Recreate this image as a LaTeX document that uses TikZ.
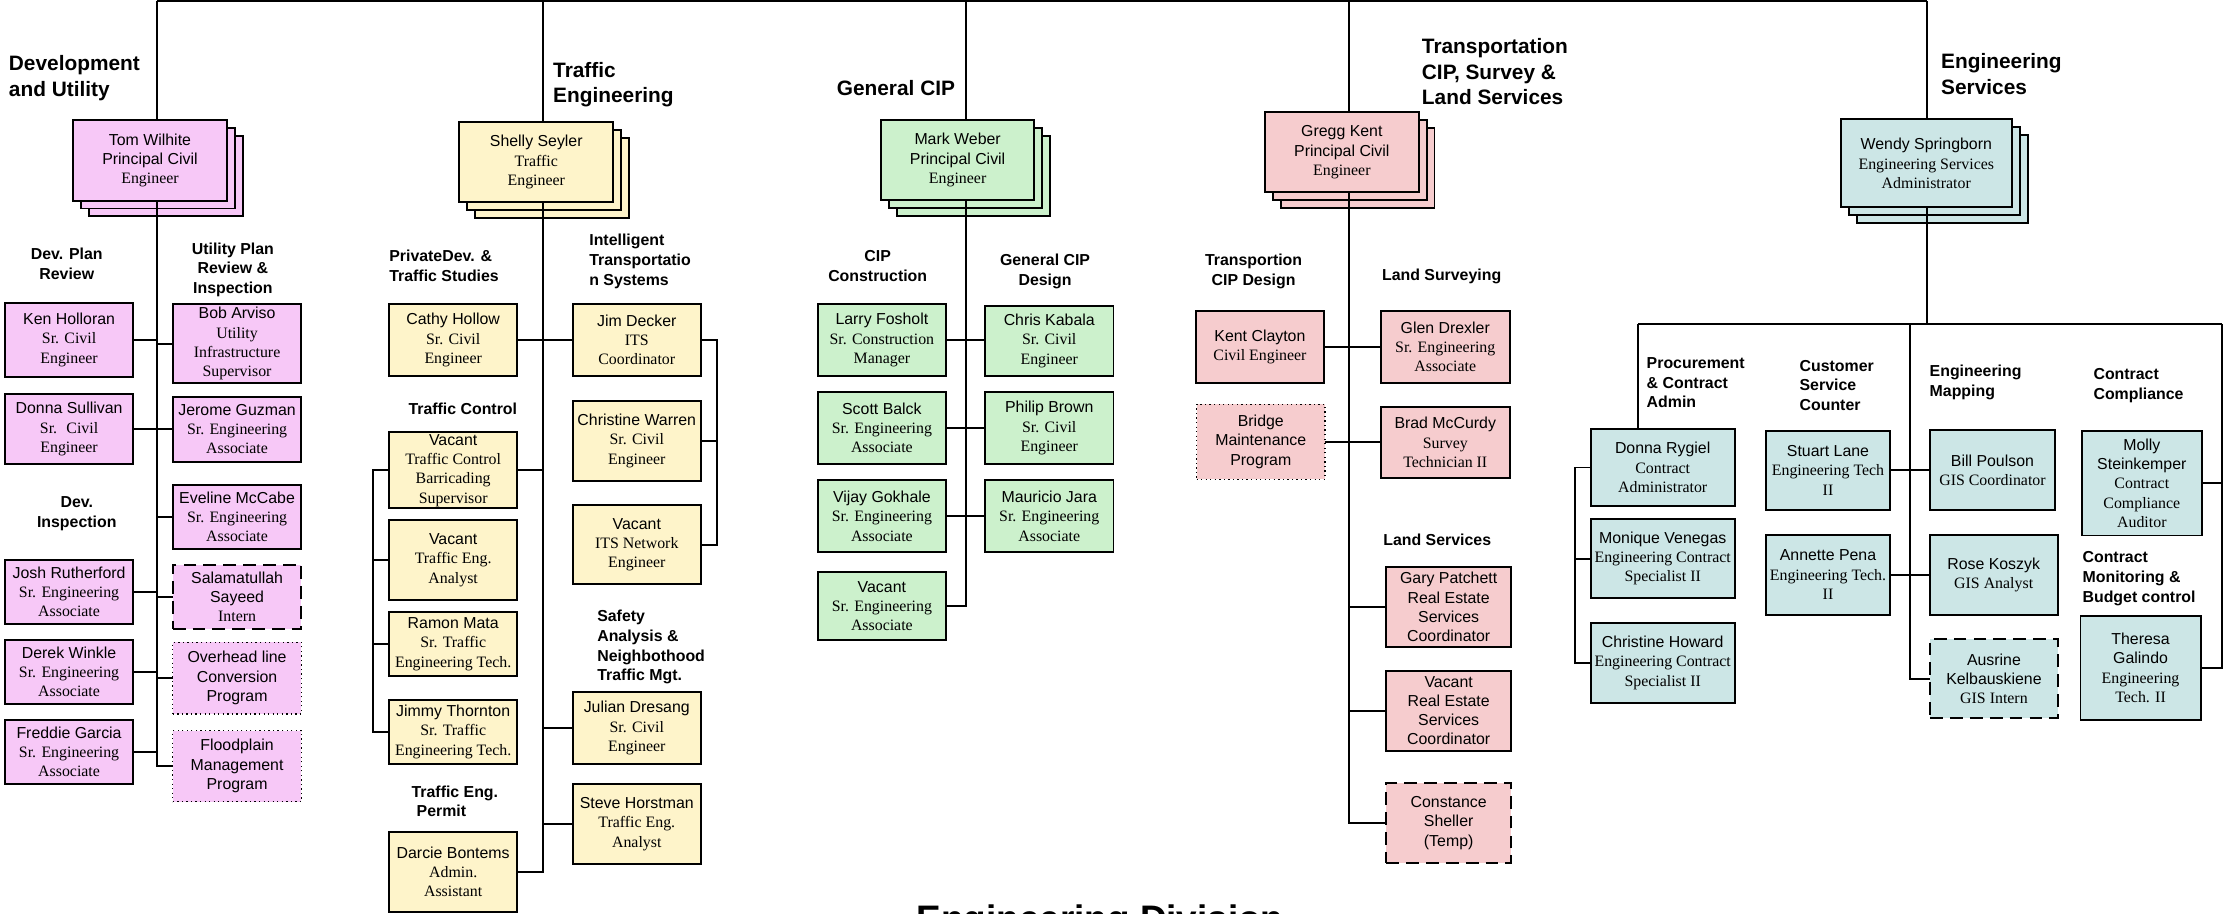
\documentclass[tikz,border=0pt]{standalone}
\usepackage{fontspec}
\setmainfont{Liberation Sans}
\newfontfamily\tms{Liberation Serif}
\definecolor{pinkc}{RGB}{247,200,247}
\definecolor{yelc}{RGB}{254,244,202}
\definecolor{grnc}{RGB}{204,241,204}
\definecolor{redc}{RGB}{246,204,206}
\definecolor{tealc}{RGB}{204,230,230}
\newcommand\srf[1]{{\tms #1}}
\newcommand\bx[7]{\node[#1, minimum width={(#5-#3)*1pt}, minimum height={(#6-#4)*1pt}] (#2) at ({(#3+#5)/2},{(#4+#6)/2}) {#7};}
\newcommand\stk[9]{%
  \node[#1, minimum width={(#5-#3)*1pt}, minimum height={(#6-#4)*1pt}] (#2b2) at ({(#3+#5)/2+2*#7},{(#4+#6)/2+2*#8}) {};
  \node[#1, minimum width={(#5-#3)*1pt}, minimum height={(#6-#4)*1pt}] (#2b1) at ({(#3+#5)/2+#7},{(#4+#6)/2+#8}) {};
  \bx{#1}{#2}{#3}{#4}{#5}{#6}{#9}}
\tikzset{
  every node/.style={inner sep=0pt, outer sep=0pt},
  boxbase/.style={draw=black, line width=1.3pt, align=center, font=\fontsize{11.2}{13.6}\selectfont},
  pk/.style={boxbase, fill=pinkc},
  yl/.style={boxbase, fill=yelc},
  gr/.style={boxbase, fill=grnc},
  rd/.style={boxbase, fill=redc},
  tl/.style={boxbase, fill=tealc},
  dashbox/.style={dash pattern=on 9pt off 5pt},
  dotbox/.style={line width=0.9pt, dash pattern=on 0.9pt off 2.3pt},
  conn/.style={line width=1.3pt},
  head/.style={font=\bfseries\fontsize{11.2}{13.9}\selectfont},
  bighead/.style={font=\bfseries\fontsize{14.7}{18.2}\selectfont, align=left, anchor=base west},
}
\begin{document}
\begin{tikzpicture}[x=1pt,y=-1pt]
\useasboundingbox (0,0) rectangle (1568,644);
\clip (0,0) rectangle (1568,644);

% ---------- big headings (y = baseline of last line)
\node[bighead] (hdev) at (6.3,68) {Development\\and Utility};
\node[bighead] (htr) at (390,72.6) {Traffic\\Engineering};
\node[bighead] (hcip) at (590,67) {General CIP};
\node[bighead] (htrans) at (1002.5,74) {Transportation\\CIP, Survey \&\\Land Services};
\node[bighead] (hes) at (1368.6,66.4) {Engineering\\Services};
\node[font=\bfseries\fontsize{26}{30}\selectfont, anchor=base] (title) at (775.6,657) {Engineering Division};

% ---------- Development and Utility
\stk{pk}{tw}{51.6}{84.6}{159.9}{141.5}{5.6}{5.5}{Tom Wilhite\\Principal Civil\\\srf{Engineer}}
\node[head, align=center, anchor=base] (hdpr) at (47.1,197.2) {Dev. Plan\\Review};
\node[head, align=center, anchor=base] (hupr) at (164.2,206.9) {Utility Plan\\Review \&\\Inspection};
\node[head, align=center, anchor=base] (hdi) at (54.1,371.8) {Dev.\\Inspection};
\bx{pk}{kh}{3.4}{213.4}{94}{265.6}{Ken Holloran\\\srf{Sr. Civil}\\\srf{Engineer}}
\bx{pk}{ba}{121.8}{214.3}{212.5}{270.2}{Bob Arviso\\\srf{Utility}\\\srf{Infrastructure}\\\srf{Supervisor}}
\bx{pk}{ds}{3.4}{277.8}{94}{327.1}{Donna Sullivan\\\srf{Sr.~ Civil}\\\srf{Engineer}}
\bx{pk}{jg}{121.8}{279.7}{212.5}{325.5}{Jerome Guzman\\\srf{Sr. Engineering}\\\srf{Associate}}
\bx{pk}{em}{121.8}{341.9}{212.5}{387}{Eveline McCabe\\\srf{Sr. Engineering}\\\srf{Associate}}
\bx{pk,dashbox}{ss}{121.8}{398.3}{212.5}{443.5}{Salamatullah\\Sayeed\\\srf{Intern}}
\bx{pk}{jr}{3.4}{394.8}{94}{439.9}{Josh Rutherford\\\srf{Sr. Engineering}\\\srf{Associate}}
\bx{pk}{dw}{3.4}{451.2}{94}{496.3}{Derek Winkle\\\srf{Sr. Engineering}\\\srf{Associate}}
\bx{pk,dotbox}{ol}{121.8}{452.8}{212.5}{503.4}{Overhead line\\Conversion\\Program}
\bx{pk}{fg}{3.4}{507.6}{94}{552.7}{Freddie Garcia\\\srf{Sr. Engineering}\\\srf{Associate}}
\bx{pk,dotbox}{fp}{121.8}{515.1}{212.5}{565.2}{Floodplain\\Management\\Program}

% ---------- Traffic Engineering
\stk{yl}{sh}{323.8}{86.3}{432.4}{142.4}{5.6}{5.6}{Shelly Seyler\\\srf{Traffic}\\\srf{Engineer}}
\node[head, align=left, anchor=base west] (hpd) at (274.5,198.4) {PrivateDev. \&\\Traffic Studies};
\node[head, align=left, anchor=base west] (hits) at (415.5,201.2) {Intelligent\\Transportatio\\n Systems};
\node[head, anchor=base] (htc) at (326.3,292.1) {Traffic Control};
\node[head, align=left, anchor=base west] (hsa) at (421.1,480) {Safety\\Analysis \&\\Neighbothood\\Traffic Mgt.};
\node[head, align=left, anchor=base west] (hte) at (290.2,576) {Traffic Eng.\\\hspace*{3.6pt}Permit};
\bx{yl}{ch}{274.5}{214.3}{364.5}{265.1}{Cathy Hollow\\\srf{Sr. Civil}\\\srf{Engineer}}
\bx{yl}{jd}{403.7}{214.3}{494.2}{265.1}{Jim Decker\\\srf{ITS}\\\srf{Coordinator}}
\bx{yl}{vtc}{274.5}{304.8}{364.5}{358.4}{Vacant\\\srf{Traffic Control}\\\srf{Barricading}\\\srf{Supervisor}}
\bx{yl}{cw}{403.7}{282.5}{494.2}{338.9}{Christine Warren\\\srf{Sr. Civil}\\\srf{Engineer}}
\bx{yl}{vits}{403.7}{356}{494.2}{412}{Vacant\\\srf{ITS Network}\\\srf{Engineer}}
\bx{yl}{vta}{274.5}{366.6}{364.5}{423}{Vacant\\\srf{Traffic Eng.}\\\srf{Analyst}}
\bx{yl}{rm}{274.5}{431.5}{364.5}{476.6}{Ramon Mata\\\srf{Sr. Traffic}\\\srf{Engineering Tech.}}
\bx{yl}{jt}{274.5}{493.5}{364.5}{538.6}{Jimmy Thornton\\\srf{Sr. Traffic}\\\srf{Engineering Tech.}}
\bx{yl}{jdr}{403.7}{488.1}{494.2}{538.6}{Julian Dresang\\\srf{Sr. Civil}\\\srf{Engineer}}
\bx{yl}{sho}{403.7}{552.7}{494.2}{609.1}{Steve Horstman\\\srf{Traffic Eng.}\\\srf{Analyst}}
\bx{yl}{db}{274.5}{586.8}{364.5}{642.7}{Darcie Bontems\\\srf{Admin.}\\\srf{Assistant}}

% ---------- General CIP
\stk{gr}{mw}{621.1}{84.8}{729.2}{141}{5.6}{5.6}{Mark Weber\\Principal Civil\\\srf{Engineer}}
\node[head, align=center, anchor=base] (hcc) at (618.8,198.4) {CIP\\Construction};
\node[head, align=center, anchor=base] (hgd) at (736.8,201.2) {General CIP\\Design};
\bx{gr}{lf}{576.5}{214.3}{667}{265.1}{Larry Fosholt\\\srf{Sr. Construction}\\\srf{Manager}}
\bx{gr}{ck}{694.5}{215.5}{785}{265.1}{Chris Kabala\\\srf{Sr. Civil}\\\srf{Engineer}}
\bx{gr}{sb}{576.5}{276.4}{667}{327.1}{Scott Balck\\\srf{Sr. Engineering}\\\srf{Associate}}
\bx{gr}{pb}{694.5}{276.4}{785}{327.1}{Philip Brown\\\srf{Sr. Civil}\\\srf{Engineer}}
\bx{gr}{vg}{576.5}{338.4}{667}{389.4}{Vijay Gokhale\\\srf{Sr. Engineering}\\\srf{Associate}}
\bx{gr}{mj}{694.5}{338.4}{785}{389.4}{Mauricio Jara\\\srf{Sr. Engineering}\\\srf{Associate}}
\bx{gr}{vc}{576.5}{403.3}{667}{451.2}{Vacant\\\srf{Sr. Engineering}\\\srf{Associate}}

% ---------- Transportation
\stk{rd}{gk}{891.9}{79}{1000.2}{135.6}{5.6}{5.6}{Gregg Kent\\Principal Civil\\\srf{Engineer}}
\node[head, align=center, anchor=base] (htd) at (883.8,201.2) {Transportion\\CIP Design};
\node[head, anchor=base] (hls) at (1016.4,198.1) {Land Surveying};
\node[head, anchor=base] (hlsv) at (1013.3,384.9) {Land Services};
\bx{rd}{kc}{843}{219}{933.6}{269.8}{Kent Clayton\\\srf{Civil Engineer}}
\bx{rd}{gd}{973.6}{219}{1064.3}{269.8}{Glen Drexler\\\srf{Sr. Engineering}\\\srf{Associate}}
\bx{rd,dotbox}{bm}{843.6}{285.1}{934.2}{337.9}{Bridge\\Maintenance\\Program}
\bx{rd}{bmc}{973.6}{286.7}{1064.3}{337.2}{Brad McCurdy\\\srf{Survey}\\\srf{Technician II}}
\bx{rd}{gp}{977.4}{400}{1065.3}{455.9}{Gary Patchett\\Real Estate\\Services\\Coordinator}
\bx{rd}{vre}{977.4}{472.8}{1065.3}{529.2}{Vacant\\Real Estate\\Services\\Coordinator}
\bx{rd,dashbox}{cs}{977.4}{552.3}{1065.3}{608.2}{Constance\\Sheller\\(Temp)}

% ---------- Engineering Services
\stk{tl}{ws}{1297.8}{84.1}{1418.4}{146.2}{5.7}{5.6}{Wendy Springborn\\\srf{Engineering Services}\\\srf{Administrator}}
\node[head, align=left, anchor=base west] (hpc) at (1161,287.5) {Procurement\\\& Contract\\Admin};
\node[head, align=left, anchor=base west] (hcs) at (1268.8,289.4) {Customer\\Service\\Counter};
\node[head, align=left, anchor=base west] (hem) at (1360.5,279.5) {Engineering\\Mapping};
\node[head, align=left, anchor=base west] (hccp) at (1476,281.8) {Contract\\Compliance};
\node[head, align=left, anchor=base west] (hcm) at (1468.3,424.5) {Contract\\Monitoring \&\\Budget control};
\bx{tl}{dr}{1121.4}{302.7}{1223.1}{356.5}{Donna Rygiel\\\srf{Contract}\\\srf{Administrator}}
\bx{tl}{mv}{1121.4}{365.9}{1223.1}{421.8}{Monique Venegas\\\srf{Engineering Contract}\\\srf{Specialist II}}
\bx{tl}{chw}{1121.4}{439}{1223.1}{495.4}{Christine Howard\\\srf{Engineering Contract}\\\srf{Specialist II}}
\bx{tl}{sl}{1245.2}{303.6}{1332.4}{359.6}{Stuart Lane\\\srf{Engineering Tech}\\\srf{II}}
\bx{tl}{ap}{1245.2}{377}{1332.4}{433.4}{Annette Pena\\\srf{Engineering Tech.}\\\srf{II}}
\bx{tl}{bp}{1360.5}{303.2}{1449}{359.6}{Bill Poulson\\\srf{GIS Coordinator}}
\bx{tl}{rk}{1360.5}{377}{1450.7}{433.4}{Rose Koszyk\\\srf{GIS Analyst}}
\bx{tl,dashbox}{ak}{1360.9}{450.5}{1450.7}{506.4}{Ausrine\\Kelbauskiene\\\srf{GIS Intern}}
\bx{tl}{ms}{1467.6}{303.9}{1552.5}{377.6}{Molly\\Steinkemper\\\srf{Contract}\\\srf{Compliance}\\\srf{Auditor}}
\bx{tl}{tg}{1466.8}{434.3}{1551.5}{507.6}{Theresa\\Galindo\\\srf{Engineering}\\\srf{Tech. II}}

% ---------- connectors
\coordinate (t1) at (110.5,0.8);
\coordinate (t2) at (383,0.8);
\coordinate (t3) at (681,0.8);
\coordinate (t4) at (951,0.8);
\coordinate (t5) at (1358.5,0.8);
\draw[conn] (t1) -- (t5);
\draw[conn] (t1) -- (t1 |- tw.north);
\draw[conn] (t2) -- (t2 |- sh.north);
\draw[conn] (t3) -- (t3 |- mw.north);
\draw[conn] (t4) -- (t4 |- gk.north);
\draw[conn] (t5) -- (t5 |- ws.north);

% dev
\draw[conn] (tw.south -| t1) |- (fp.west);
\draw[conn] (kh.east) -- (kh.east -| t1);
\draw[conn] (ba.west) -- (ba.west -| t1);
\draw[conn] (ds.east) -- (ds.east -| jg.west);
\draw[conn] (em.west) -- (em.west -| t1);
\draw[conn] (ss.west) -- (ss.west -| t1);
\draw[conn] (jr.east) -- (jr.east -| t1);
\draw[conn] (dw.east) -- (dw.east -| t1);
\draw[conn] (ol.west) -- (ol.west -| t1);
\draw[conn] (fg.east) -- (fg.east -| t1);

% traffic
\coordinate (itsr) at (505.3,300);
\coordinate (tcl) at (262.7,400);
\draw[conn] (sh.south -| t2) |- (db.east);
\draw[conn] (ch.east) -- (ch.east -| jd.west);
\draw[conn] (vtc.east) -- (vtc.east -| t2);
\draw[conn] (jdr.west) -- (jdr.west -| t2);
\draw[conn] (sho.west) -- (sho.west -| t2);
\draw[conn] (jd.east) -| (itsr |- vits.east) -- (vits.east);
\draw[conn] (cw.east) -- (cw.east -| itsr);
\draw[conn] (vtc.west) -| (tcl |- jt.west) -- (jt.west);
\draw[conn] (vta.west) -- (vta.west -| tcl);
\draw[conn] (rm.west) -- (rm.west -| tcl);

% cip
\draw[conn] (mw.south -| t3) |- (vc.east);
\draw[conn] (lf.east) -- (lf.east -| ck.west);
\draw[conn] (sb.east) -- (sb.east -| pb.west);
\draw[conn] (vg.east) -- (vg.east -| mj.west);

% transportation
\draw[conn] (gk.south -| t4) |- (cs.west);
\draw[conn] (kc.east) -- (kc.east -| gd.west);
\draw[conn] (bm.east) -- (bm.east -| bmc.west);
\draw[conn] (gp.west) -- (gp.west -| t4);
\draw[conn] (vre.west) -- (vre.west -| t4);

% engineering services
\coordinate (eb) at (1358.5,228.4);
\coordinate (ebl) at (1155,228.4);
\coordinate (ebm) at (1346.5,228.4);
\coordinate (ebr) at (1566.5,228.4);
\coordinate (pcl) at (1110.3,400);
\draw[conn] (ws.south -| t5) -- (eb);
\draw[conn] (ebl) -- (ebr);
\draw[conn] (ebl) -- (ebl |- dr.north);
\draw[conn] (ebm) |- (ak.west);
\draw[conn] (ebr) |- (tg.east);
\draw[conn] (sl.east) -- (sl.east -| bp.west);
\draw[conn] (ap.east) -- (ap.east -| rk.west);
\draw[conn] (ms.east) -- (ms.east -| ebr);
\draw[conn] (dr.west) -| (pcl |- chw.west) -- (chw.west);
\draw[conn] (mv.west) -- (mv.west -| pcl);
\end{tikzpicture}
\end{document}
